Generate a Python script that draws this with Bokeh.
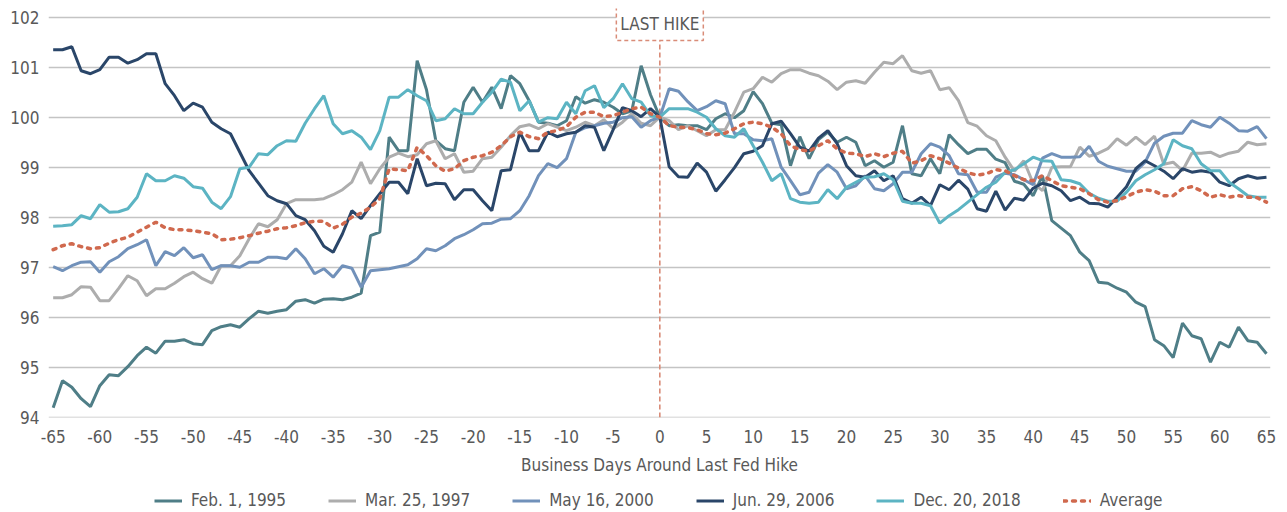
from bokeh.plotting import figure
from bokeh.layouts import column
from bokeh.models import (Range1d, FixedTicker, Legend, LegendItem, Label, ColumnDataSource)
from bokeh.embed import file_html
from bokeh.resources import INLINE

days = list(range(-65, 66))

feb1995 = [
    94.19, 94.73, 94.60, 94.37, 94.21, 94.63, 94.85, 94.83, 95.01, 95.23,
    95.40, 95.28, 95.52, 95.52, 95.55, 95.47, 95.45, 95.73, 95.81, 95.85,
    95.80, 95.97, 96.12, 96.08, 96.12, 96.15, 96.32, 96.35, 96.28, 96.36,
    96.37, 96.35, 96.40, 96.48, 97.63, 97.70, 99.60, 99.33, 99.33, 101.13,
    100.55, 99.53, 99.37, 99.33, 100.30, 100.60, 100.30, 100.60, 100.17, 100.83,
    100.67, 100.33, 99.90, 99.88, 99.83, 99.93, 100.41, 100.28, 100.35, 100.30,
    100.20, 100.07, 100.13, 101.03, 100.45,
    100.00,
    99.83, 99.85, 99.83, 99.83, 99.75, 99.97, 100.07, 99.99, 100.13, 100.51,
    100.27, 99.88, 99.85, 99.03, 99.61, 99.17, 99.55, 99.70, 99.50, 99.60,
    99.50, 99.03, 99.13, 99.00, 99.10, 99.83, 98.87, 98.83, 99.17, 98.87,
    99.65, 99.45, 99.27, 99.36, 99.36, 99.16, 99.09, 98.72, 98.66, 98.43,
    98.83, 97.93, 97.78, 97.63, 97.30, 97.13, 96.70, 96.68, 96.58, 96.50,
    96.30, 96.21, 95.55, 95.43, 95.19, 95.88, 95.63, 95.57, 95.10, 95.50,
    95.40, 95.80, 95.53, 95.50, 95.27]

mar1997 = [
    96.39, 96.39, 96.45, 96.61, 96.60, 96.33, 96.33, 96.57, 96.83, 96.73,
    96.43, 96.57, 96.57, 96.68, 96.81, 96.90, 96.77, 96.68, 97.03, 97.03,
    97.23, 97.57, 97.87, 97.81, 97.95, 98.27, 98.35, 98.35, 98.35, 98.37,
    98.45, 98.55, 98.70, 99.10, 98.67, 98.97, 99.20, 99.28, 99.21, 99.25,
    99.47, 99.53, 99.17, 99.27, 98.90, 98.92, 99.17, 99.20, 99.40, 99.63,
    99.81, 99.85, 99.77, 99.87, 99.80, 99.73, 99.80, 99.90, 99.83, 99.95,
    99.77, 99.90, 100.07, 99.88, 99.83,
    100.00,
    99.93, 99.75, 99.83, 99.73, 99.63, 99.75, 99.75, 100.10, 100.50, 100.57,
    100.80, 100.70, 100.87, 100.95, 100.95, 100.88, 100.83, 100.72, 100.55, 100.70,
    100.73, 100.68, 100.90, 101.10, 101.07, 101.23, 100.93, 100.88, 100.93, 100.55,
    100.59, 100.33, 99.89, 99.82, 99.63, 99.53, 99.20, 98.92, 99.13, 98.68,
    98.53, 99.00, 99.01, 99.01, 99.40, 99.22, 99.28, 99.37, 99.57, 99.44,
    99.60, 99.45, 99.62, 99.06, 99.10, 98.93, 99.28, 99.28, 99.30, 99.21,
    99.28, 99.32, 99.50, 99.45, 99.47]

may2000 = [
    97.01, 96.93, 97.03, 97.10, 97.11, 96.90, 97.11, 97.21, 97.37, 97.45,
    97.55, 97.03, 97.31, 97.23, 97.39, 97.19, 97.25, 96.95, 97.03, 97.03,
    97.00, 97.10, 97.10, 97.20, 97.20, 97.17, 97.37, 97.17, 96.87, 96.97,
    96.80, 97.03, 96.98, 96.60, 96.93, 96.95, 96.97, 97.01, 97.05, 97.17,
    97.37, 97.33, 97.43, 97.57, 97.65, 97.75, 97.87, 97.88, 97.96, 97.97,
    98.13, 98.43, 98.83, 99.07, 98.99, 99.17, 99.70, 99.79, 99.83, 99.88,
    99.90, 99.99, 100.01, 99.80, 99.93,
    100.00,
    100.57, 100.52, 100.31, 100.13, 100.21, 100.33, 100.27, 99.67, 99.67, 99.55,
    99.53, 99.57, 99.00, 98.73, 98.45, 98.50, 98.88, 99.05, 98.90, 98.57,
    98.63, 98.83, 98.57, 98.53, 98.67, 98.90, 98.90, 99.27, 99.47, 99.40,
    99.23, 98.87, 98.85, 98.50, 98.50, 98.80, 98.88, 98.85, 98.75, 98.65,
    99.18, 99.27, 99.20, 99.20, 99.21, 99.42, 99.12, 99.02, 98.97, 98.92,
    98.92, 99.10, 99.48, 99.62, 99.68, 99.68, 99.93, 99.85, 99.80, 100.00,
    99.88, 99.73, 99.72, 99.81, 99.57]

jun2006 = [
    101.35, 101.35, 101.41, 100.93, 100.87, 100.95, 101.20, 101.20, 101.08, 101.15,
    101.27, 101.27, 100.67, 100.43, 100.13, 100.28, 100.20, 99.90, 99.77, 99.67,
    99.30, 98.93, 98.68, 98.43, 98.33, 98.27, 98.03, 97.95, 97.73, 97.42,
    97.30, 97.67, 98.13, 97.97, 98.23, 98.47, 98.70, 98.70, 98.47, 99.17,
    98.63, 98.68, 98.67, 98.35, 98.55, 98.55, 98.33, 98.13, 98.93, 98.95,
    99.70, 99.33, 99.33, 99.70, 99.61, 99.67, 99.70, 99.83, 99.80, 99.33,
    99.75, 100.19, 100.13, 100.01, 100.17,
    100.00,
    99.01, 98.81, 98.80, 99.08, 98.90, 98.52, 98.75, 98.99, 99.27, 99.32,
    99.43, 99.87, 99.92, 99.67, 99.40, 99.32, 99.58, 99.73, 99.47, 99.03,
    98.83, 98.80, 98.93, 98.73, 98.83, 98.37, 98.28, 98.40, 98.23, 98.65,
    98.55, 98.74, 98.56, 98.17, 98.12, 98.52, 98.14, 98.38, 98.34, 98.58,
    98.68, 98.63, 98.53, 98.33, 98.40, 98.28, 98.27, 98.20, 98.40, 98.61,
    98.97, 99.13, 99.03, 98.92, 98.77, 98.97, 98.90, 98.93, 98.90, 98.70,
    98.63, 98.77, 98.83, 98.78, 98.80]

dec2018 = [
    97.82, 97.83, 97.85, 98.03, 97.97, 98.25, 98.10, 98.11, 98.17, 98.40,
    98.87, 98.73, 98.73, 98.83, 98.78, 98.61, 98.58, 98.30, 98.17, 98.41,
    98.97, 99.00, 99.27, 99.25, 99.43, 99.53, 99.52, 99.88, 100.17, 100.43,
    99.87, 99.67, 99.73, 99.60, 99.35, 99.73, 100.40, 100.40, 100.55, 100.43,
    100.33, 99.93, 99.97, 100.17, 100.07, 100.07, 100.30, 100.50, 100.76, 100.70,
    100.13, 100.33, 99.90, 99.99, 99.97, 100.30, 100.07, 100.53, 100.63, 100.19,
    100.37, 100.67, 100.37, 100.30, 100.03,
    100.00,
    100.17, 100.17, 100.17, 100.10, 100.00, 99.77, 99.63, 99.60, 99.77, 99.43,
    99.10, 98.73, 98.87, 98.37, 98.30, 98.28, 98.30, 98.55, 98.37, 98.60,
    98.70, 98.80, 98.81, 98.87, 98.75, 98.32, 98.28, 98.28, 98.23, 97.88,
    98.03, 98.15, 98.30, 98.45, 98.60, 98.70, 98.90, 98.95, 99.07, 99.20,
    99.13, 99.12, 98.75, 98.73, 98.67, 98.48, 98.38, 98.32, 98.32, 98.50,
    98.73, 98.85, 98.95, 99.07, 99.55, 99.43, 99.37, 99.07, 98.93, 98.93,
    98.70, 98.57, 98.43, 98.40, 98.40]

average = [
    97.35, 97.43, 97.47, 97.41, 97.37, 97.39, 97.48, 97.55, 97.60, 97.70,
    97.80, 97.90, 97.79, 97.75, 97.75, 97.73, 97.70, 97.67, 97.55, 97.56,
    97.59, 97.63, 97.68, 97.72, 97.77, 97.79, 97.83, 97.89, 97.92, 97.92,
    97.78, 97.86, 98.00, 98.08, 98.20, 98.37, 98.97, 98.95, 98.93, 99.40,
    99.23, 99.03, 98.92, 98.97, 99.13, 99.20, 99.23, 99.30, 99.43, 99.61,
    99.70, 99.61, 99.57, 99.70, 99.73, 99.81, 100.00, 100.10, 100.10, 100.01,
    100.03, 100.10, 100.17, 100.20, 100.07,
    100.00,
    99.83, 99.80, 99.79, 99.75, 99.67, 99.65, 99.68, 99.77, 99.87, 99.90,
    99.87, 99.80, 99.67, 99.43, 99.35, 99.32, 99.43, 99.53, 99.37, 99.28,
    99.27, 99.21, 99.27, 99.21, 99.28, 99.32, 99.08, 99.13, 99.23, 99.17,
    99.08, 98.98, 98.89, 98.84, 98.87, 98.95, 98.93, 98.83, 98.75, 98.73,
    98.83, 98.73, 98.63, 98.60, 98.57, 98.47, 98.35, 98.30, 98.33, 98.41,
    98.50, 98.55, 98.52, 98.43, 98.43, 98.57, 98.61, 98.53, 98.40, 98.45,
    98.40, 98.43, 98.40, 98.39, 98.30]

series_names = ["Feb. 1, 1995", "Mar. 25, 1997", "May 16, 2000", "Jun. 29, 2006", "Dec. 20, 2018"]
series_values = [feb1995, mar1997, may2000, jun2006, dec2018]
series_colors = ["#4F7E87", "#ADADAD", "#7191BA", "#2A4669", "#5CB4C3"]
avg_name = "Average"
avg_color = "#D0694E"

x_ticks = list(range(-65, 66, 5))
x_tick_labels = [str(t) for t in x_ticks]
y_ticks = list(range(94, 103))
last_hike_day = 0
last_hike_text = "LAST HIKE"

FONT = "DejaVu Sans Condensed, Roboto Condensed, Roboto, sans-serif"
TXT = "#595959"
FS = "17px"

# ---- main chart ----
p = figure(frame_width=1222, frame_height=409, output_backend="svg", toolbar_location=None,
           x_range=Range1d(-65.5, 65.43), y_range=Range1d(93.994, 102.174),
           min_border_left=48, min_border_right=17, min_border_top=8, min_border_bottom=70)
p.outline_line_color = None
p.background_fill_color = "white"
p.border_fill_color = "white"

p.xgrid.grid_line_color = None
p.ygrid.grid_line_color = "#C4C4C4"
p.ygrid.grid_line_width = 1.3

p.xaxis.ticker = FixedTicker(ticks=x_ticks)
p.xaxis.major_label_overrides = dict(zip(x_ticks, x_tick_labels))
p.yaxis.ticker = FixedTicker(ticks=y_ticks)
for ax in (p.xaxis[0], p.yaxis[0]):
    ax.axis_line_color = None
    ax.major_tick_line_color = None
    ax.minor_tick_line_color = None
    ax.major_tick_out = 0
    ax.major_tick_in = 0
    ax.minor_tick_out = 0
    ax.minor_tick_in = 0
    ax.major_label_text_font = FONT
    ax.major_label_text_font_size = FS
    ax.major_label_text_color = TXT
p.yaxis.major_label_standoff = 9
p.xaxis.major_label_standoff = 12
p.xaxis.axis_label = "Business Days Around Last Fed Hike"
p.xaxis.axis_label_text_font = FONT
p.xaxis.axis_label_text_font_size = FS
p.xaxis.axis_label_text_font_style = "normal"
p.xaxis.axis_label_text_color = TXT
p.xaxis.axis_label_standoff = 9

# last hike marker line and box label
p.segment(x0=[last_hike_day], y0=[93.994], x1=[last_hike_day], y1=[101.574],
          line_color="#D98C78", line_width=1.6, line_dash="5 3")
lab = Label(x=last_hike_day, y=101.874, text=last_hike_text, text_align="center",
            text_baseline="middle", text_font=FONT, text_font_size=FS, text_color=TXT,
            border_line_color="#D98C78", border_line_dash="4 3", border_line_width=1.5,
            background_fill_color="white", padding=(4, 7))
p.add_layout(lab)

for vals, col in zip(series_values, series_colors):
    src = ColumnDataSource(dict(x=days, y=vals))
    p.line("x", "y", source=src, line_color=col, line_width=3)
src = ColumnDataSource(dict(x=days, y=average))
p.line("x", "y", source=src, line_color=avg_color, line_width=3.5, line_dash="3 6", line_cap="round")

# ---- legend strip (its own small canvas; the series lie outside its ranges) ----
leg = figure(width=1287, height=25, output_backend="svg", toolbar_location=None,
             x_range=Range1d(0, 1), y_range=Range1d(0, 1),
             x_axis_location=None, y_axis_location=None,
             min_border_left=0, min_border_right=0, min_border_top=0, min_border_bottom=0)
leg.outline_line_color = None
leg.xgrid.grid_line_color = None
leg.ygrid.grid_line_color = None
items = []
for name, vals, col in zip(series_names, series_values, series_colors):
    r = leg.line(x=days, y=vals, line_color=col, line_width=3)
    items.append(LegendItem(label=name, renderers=[r]))
r = leg.line(x=days, y=average, line_color=avg_color, line_width=3.5, line_dash="3 6", line_cap="round")
items.append(LegendItem(label=avg_name, renderers=[r]))

legend = Legend(items=items, orientation="horizontal", location=(106, 2),
                label_text_font=FONT, label_text_font_size=FS, label_text_color=TXT,
                glyph_width=28, glyph_height=17, label_standoff=9, spacing=42,
                padding=0, margin=0, border_line_color=None, background_fill_alpha=0)
leg.add_layout(legend)

layout = column(p, leg, spacing=0)
open("out.html", "w").write(file_html(layout, INLINE))
